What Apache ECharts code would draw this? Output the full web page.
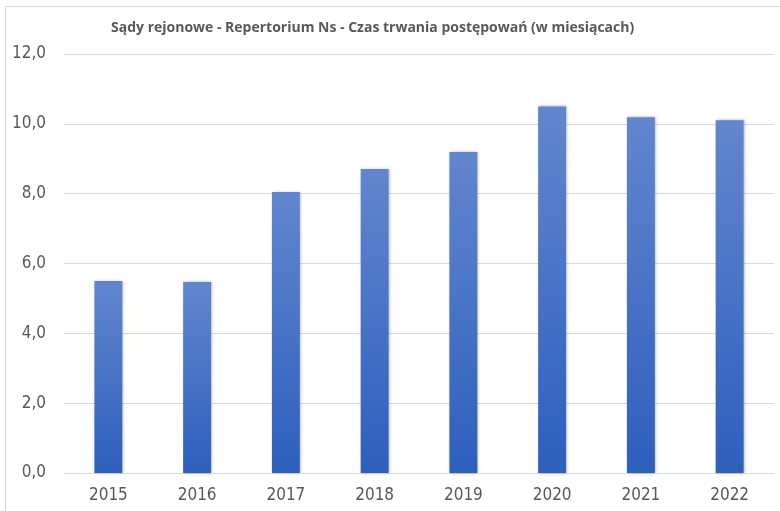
<!DOCTYPE html>
<html>
<head>
<meta charset="utf-8">
<script src="https://cdn.jsdelivr.net/npm/echarts@6/dist/echarts.min.js"></script>
<style>
  html, body { margin: 0; padding: 0; background: #fff; }
  #chart { width: 780px; height: 511px; }
</style>
</head>
<body>
<div id="chart"></div>
<script>
const years = ['2015', '2016', '2017', '2018', '2019', '2020', '2021', '2022']
const months = [5.5, 5.47, 8.05, 8.71, 9.19, 10.5, 10.19, 10.1]
const yTicks = { min: 0, max: 12, step: 2 }
const title = 'Sądy rejonowe - Repertorium Ns - Czas trwania postępowań (w miesiącach)'

const labelFont = "'Liberation Sans Narrow', 'DejaVu Sans Condensed', 'Noto Sans', sans-serif"

const chart = echarts.init(document.getElementById('chart'))
const option = {
  animation: false,
  backgroundColor: '#fff',
  graphic: [
    {
      type: 'polyline',
      shape: { points: [[5.5, 520], [5.5, 6.5], [790, 6.5]] },
      style: { stroke: '#d9d9d9', lineWidth: 1, fill: null },
      silent: true
    }
  ],
  title: {
    text: title,
    left: 106,
    top: 16,
    textStyle: {
      fontFamily: "'Open Sans', 'Noto Sans', sans-serif",
      fontSize: 14,
      fontWeight: 'bold',
      color: '#595959'
    }
  },
  grid: {
    left: 64,
    right: 6,
    top: 54,
    bottom: 38
  },
  xAxis: {
    type: 'category',
    data: years,
    axisLine: { show: true, lineStyle: { color: '#d9d9d9', width: 1 } },
    axisTick: { show: false },
    axisLabel: {
      margin: 14,
      fontFamily: labelFont,
      fontSize: 17,
      color: '#595959'
    }
  },
  yAxis: {
    type: 'value',
    min: yTicks.min,
    max: yTicks.max,
    interval: yTicks.step,
    axisLine: { show: false },
    axisTick: { show: false },
    splitLine: { lineStyle: { color: '#d9d9d9', width: 1 } },
    axisLabel: {
      margin: 18,
      fontFamily: labelFont,
      fontSize: 17,
      color: '#595959',
      formatter: v => v.toFixed(1).replace('.', ',')
    }
  },
  series: [
    {
      type: 'bar',
      data: months,
      barWidth: '31.5%',
      itemStyle: {
        color: new echarts.graphic.LinearGradient(0, 0, 0, 1, [
          { offset: 0, color: '#6286ce' },
          { offset: 1, color: '#2d5fbd' }
        ]),
        shadowBlur: 3,
        shadowColor: 'rgba(0,0,0,0.3)',
        shadowOffsetX: 1
      }
    }
  ]
}
chart.setOption(option)
</script>
</body>
</html>
